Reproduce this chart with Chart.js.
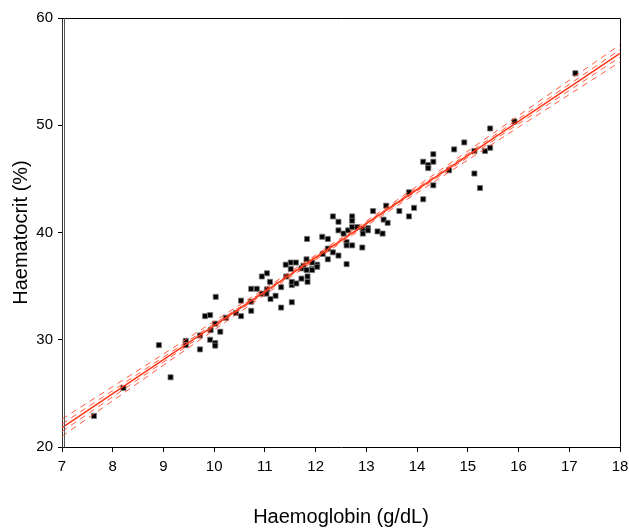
<!DOCTYPE html>
<html>
<head>
<meta charset="utf-8">
<script src="https://cdn.jsdelivr.net/npm/chart.js@4"></script>
<style>
html,body{margin:0;padding:0;background:#fff;}
#wrap{width:629px;height:529px;position:relative;}
</style>
</head>
<body>
<div id="wrap"><canvas id="c" width="629" height="529"></canvas></div>
<script>
const haemoglobin = [7.63,8.21,8.91,9.14,9.44,9.44,9.72,9.72,9.82,9.92,9.93,9.92,10.02,10.02,10.02,10.03,10.12,10.23,10.43,10.53,10.53,10.73,10.73,10.73,10.84,10.94,11.04,11.1,11.04,10.94,11.03,11.21,11.11,11.32,11.32,11.53,11.53,11.41,11.51,11.61,11.51,11.42,11.53,11.62,11.72,11.84,11.84,11.82,11.76,11.93,12.03,11.93,12.03,11.93,11.72,11.82,11.83,12.14,12.24,12.24,12.34,12.45,12.61,12.13,12.24,12.61,12.61,12.72,12.92,12.45,12.55,12.64,12.72,12.82,12.93,13.03,12.93,13.03,13.22,13.32,12.34,12.72,12.72,12.45,13.34,13.42,13.13,13.39,13.65,13.94,13.84,13.84,14.12,14.32,14.12,14.32,14.22,14.22,14.32,14.63,14.73,14.93,15.13,15.34,15.44,15.44,15.13,15.24,15.92,17.12];
const haematocrit = [22.9,25.5,29.5,26.5,29.9,29.5,30.4,29.1,32.2,32.3,30.9,30.0,29.7,29.45,31.5,34.0,30.75,32.05,32.5,32.2,33.65,33.55,32.7,34.75,34.75,35.9,36.2,35.4,34.7,34.3,34.3,34.1,33.8,34.9,33.0,33.5,35.1,37.0,37.2,37.2,36.6,35.9,35.4,35.25,35.7,35.9,35.4,37.5,36.9,36.6,37.0,37.2,36.8,36.5,36.65,36.5,39.4,38.0,37.5,38.5,38.15,37.85,37.05,39.6,39.4,39.1,38.8,38.8,38.6,40.2,39.9,40.2,40.5,40.5,40.3,40.4,39.9,40.2,40.1,39.9,41.5,41.5,41.1,41.0,41.2,40.9,42.0,42.5,42.0,42.3,41.5,43.75,43.1,44.4,46.6,46.6,46.3,46.0,47.3,45.8,47.75,48.4,47.6,47.6,47.9,49.7,45.5,44.15,50.35,54.85];

// Regression line and bands
const lineX      = [7,8,9,10,11,12,13,14,15,16,17,18];
const fitY       = [21.80,24.97,28.15,31.32,34.49,37.67,40.84,44.01,47.18,50.36,53.53,56.70];
const outerUpper = [22.60,25.63,28.67,31.72,34.78,37.89,41.07,44.32,47.60,50.90,54.20,57.50];
const outerLower = [21.00,24.31,27.63,30.92,34.20,37.45,40.61,43.70,46.76,49.82,52.86,55.90];
const innerUpper = [22.15,25.26,28.38,31.49,34.61,37.76,40.93,44.14,47.36,50.59,53.82,57.05];
const innerLower = [21.45,24.68,27.92,31.15,34.37,37.58,40.75,43.88,47.00,50.13,53.24,56.35];

const xTicks = [7,8,9,10,11,12,13,14,15,16,17,18];
const yTicks = [20,30,40,50,60];

const pts = haemoglobin.map((x,i)=>({x:x,y:haematocrit[i]}));
const toLine = arr => lineX.map((x,i)=>({x:x,y:arr[i]}));

const lineDs = (arr, dashed) => ({
  type:'line', data: toLine(arr), showLine:true, pointRadius:0,
  borderColor: dashed ? 'rgba(255,70,40,0.9)' : '#ff3a1a',
  borderWidth: dashed ? 1 : 1.6,
  borderDash: dashed ? [6,5] : [],
  cubicInterpolationMode:'monotone', fill:false, order: 0
});

const boxPlugin = {
  id:'box',
  afterDraw(chart){
    const a = chart.chartArea, ctx = chart.ctx;
    ctx.save();
    ctx.strokeStyle = '#000'; ctx.lineWidth = 1;
    ctx.beginPath();
    ctx.moveTo(a.left, a.top+0.5); ctx.lineTo(a.right+0.5, a.top+0.5); ctx.lineTo(a.right+0.5, a.bottom);
    ctx.stroke();
    ctx.strokeStyle = '#555'; ctx.lineWidth = 1;
    ctx.beginPath();
    ctx.moveTo(a.left+2.5, a.top); ctx.lineTo(a.left+2.5, a.bottom);
    ctx.stroke();
    ctx.restore();
  }
};

new Chart(document.getElementById('c'), {
  type:'scatter',
  data:{ datasets:[
    lineDs(outerUpper,true), lineDs(outerLower,true),
    lineDs(innerUpper,true), lineDs(innerLower,true),
    lineDs(fitY,false),
    { type:'scatter', data:pts, pointStyle:'rect', pointRadius:3.6, pointBackgroundColor:'#000',
      pointBorderColor:'#777', pointBorderWidth:0.8, order:1 }
  ]},
  options:{
    responsive:false, animation:false, devicePixelRatio:1,
    layout:{ padding:{ top:18, right:9, left:0, bottom:0 } },
    plugins:{ legend:{display:false}, tooltip:{enabled:false} },
    scales:{
      x:{ type:'linear', min:7, max:18,
        afterBuildTicks: s => { s.ticks = xTicks.map(v=>({value:v})); },
        afterFit: s => { s.height = 82; s.paddingLeft = 0; s.paddingRight = 0; },
        ticks:{ color:'#000', font:{family:'Liberation Sans, Arial', size:15}, padding:6, maxRotation:0 },
        grid:{ display:true, drawOnChartArea:false, drawTicks:true, tickLength:5, color:'#000' },
        border:{ display:true, color:'#000', width:1 },
        title:{ display:true, text:'Haemoglobin (g/dL)', color:'#000',
          font:{family:'Liberation Sans, Arial', size:20}, padding:{top:0,bottom:0} }
      },
      y:{ type:'linear', min:20, max:60,
        afterBuildTicks: s => { s.ticks = yTicks.map(v=>({value:v})); },
        afterFit: s => { s.width = 62; s.paddingTop = 0; s.paddingBottom = 0; },
        ticks:{ color:'#000', font:{family:'Liberation Sans, Arial', size:15}, padding:5 },
        grid:{ display:true, drawOnChartArea:false, drawTicks:true, tickLength:4, color:'#000' },
        border:{ display:true, color:'#333', width:1 },
        title:{ display:true, text:'Haematocrit (%)', color:'#000',
          font:{family:'Liberation Sans, Arial', size:20}, padding:{top:9,bottom:0} }
      }
    }
  },
  plugins:[boxPlugin]
});
</script>
</body>
</html>
